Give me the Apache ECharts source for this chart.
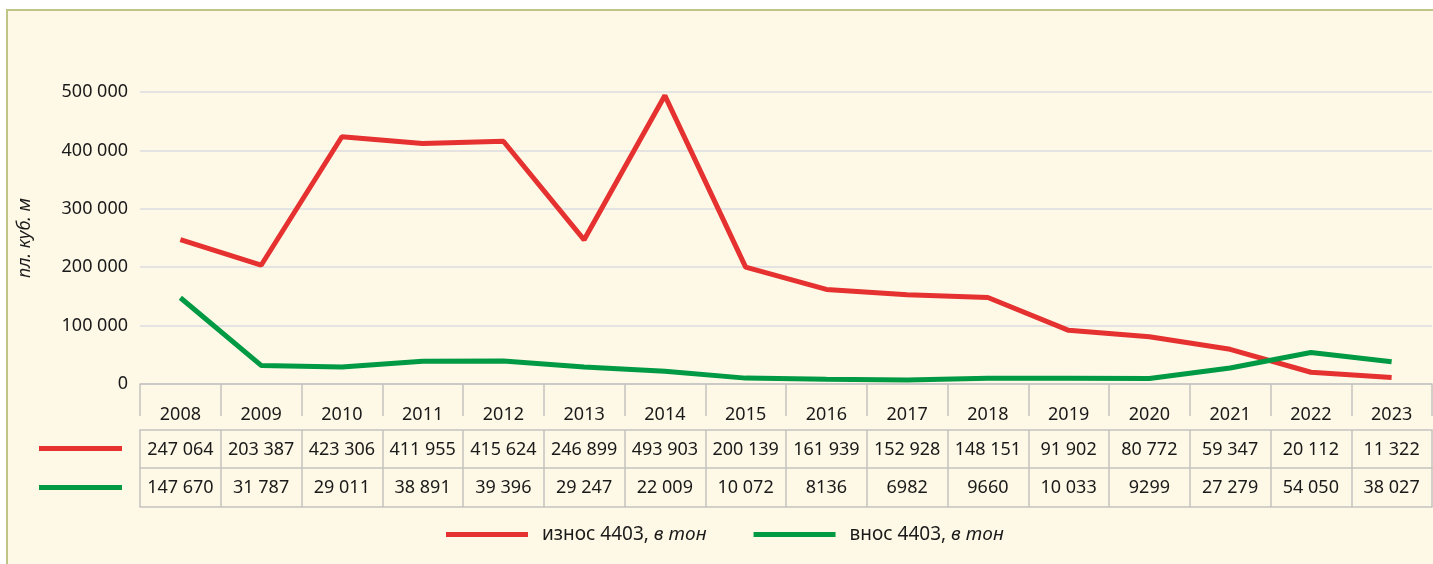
<!DOCTYPE html>
<html>
<head>
<meta charset="utf-8">
<script src="https://cdn.jsdelivr.net/npm/echarts@6/dist/echarts.min.js"></script>
<style>
  html, body { margin: 0; padding: 0; background: #ffffff; }
  #frame {
    position: absolute; left: 6px; top: 9px; width: 1427px; height: 555px;
    background: #fef8e6; border-left: 2px solid #bfc487; border-top: 2px solid #bfc487;
  }
  #chart { position: absolute; left: 0; top: 0; width: 1433px; height: 564px; }
</style>
</head>
<body>
<div id="frame"></div>
<div id="chart"></div>
<script>
  // data
  const years = ["2008", "2009", "2010", "2011", "2012", "2013", "2014", "2015",
    "2016", "2017", "2018", "2019", "2020", "2021", "2022", "2023"];
  const exportVals = [247064, 203387, 423306, 411955, 415624, 246899, 493903, 200139,
    161939, 152928, 148151, 91902, 80772, 59347, 20112, 11322];
  const importVals = [147670, 31787, 29011, 38891, 39396, 29247, 22009, 10072,
    8136, 6982, 9660, 10033, 9299, 27279, 54050, 38027];
  const exportName = "износ 4403, в тон";
  const importName = "внос 4403, в тон";

  const FONT = "Noto Sans";
  const TEXT = "#1a1a1a";
  const RED = "#e5312f";
  const GREEN = "#009a44";
  const CELL = "#c4c2bf";

  // 247064 -> "247 064", 8136 stays as is
  const fmt = (v) => {
    const s = String(v);
    return s.length > 4 ? s.replace(/\B(?=(\d{3})+(?!\d))/g, " ") : s;
  };

  // one table row drawn as an extra category axis under the grid
  const tableRow = (labels, offset, height, labelPos) => ({
    type: "category",
    gridIndex: 0,
    position: "bottom",
    offset: offset,
    data: labels,
    boundaryGap: true,
    axisLine: { show: true, lineStyle: { color: CELL, width: 1.5 } },
    axisTick: { show: height > 0, interval: 0, length: height, lineStyle: { color: CELL, width: 1.5 } },
    axisLabel: {
      show: labelPos > 0, interval: 0, margin: labelPos, verticalAlign: "middle",
      color: TEXT, fontFamily: FONT, fontSize: 18
    },
    splitLine: { show: false }
  });

  const chart = echarts.init(document.getElementById("chart"));
  chart.setOption({
    backgroundColor: "transparent",
    textStyle: { fontFamily: FONT },
    grid: { left: 140, right: 1, top: 92, bottom: 180 },
    legend: [
      {
        data: [exportName], left: 39, top: 446, padding: 0, itemWidth: 83, itemHeight: 5,
        icon: "rect", formatter: () => "", selectedMode: false
      },
      {
        data: [importName], left: 39, top: 485, padding: 0, itemWidth: 83, itemHeight: 5,
        icon: "rect", formatter: () => "", selectedMode: false
      },
      {
        data: [exportName, importName], left: 446, top: 525, padding: 0, itemWidth: 82, itemHeight: 5,
        icon: "rect", itemGap: 47, selectedMode: false,
        formatter: (name) => "{n|" + name.split(", ")[0] + ", }{i|в тон}",
        textStyle: {
          padding: [0, 0, 0, 9],
          rich: {
            n: { fontFamily: FONT, fontSize: 19, color: TEXT },
            i: { fontFamily: FONT, fontSize: 19, color: TEXT, fontStyle: "italic" }
          }
        }
      }
    ],
    xAxis: [
      tableRow(years, 14, 32, 17),
      tableRow(exportVals.map(fmt), 46, 38, 20),
      tableRow(importVals.map(fmt), 84, 39, 20),
      tableRow(years, 123, 0, 0)
    ],
    yAxis: {
      type: "value",
      min: 0,
      max: 500000,
      interval: 100000,
      name: "пл. куб. м",
      nameLocation: "middle",
      nameRotate: 90,
      nameGap: 106,
      nameTextStyle: { fontFamily: FONT, fontSize: 18, fontStyle: "italic", color: TEXT },
      axisLine: { show: false },
      axisTick: { show: false },
      axisLabel: { margin: 12, color: TEXT, fontFamily: FONT, fontSize: 18, formatter: fmt },
      splitLine: { lineStyle: { color: "#e5e3e1", width: 2 } }
    },
    series: [
      {
        name: exportName, type: "line", xAxisIndex: 0, data: exportVals,
        symbol: "none", color: RED, lineStyle: { color: RED, width: 5 }
      },
      {
        name: importName, type: "line", xAxisIndex: 0, data: importVals,
        symbol: "none", color: GREEN, lineStyle: { color: GREEN, width: 5 }
      }
    ]
  });
</script>
</body>
</html>
